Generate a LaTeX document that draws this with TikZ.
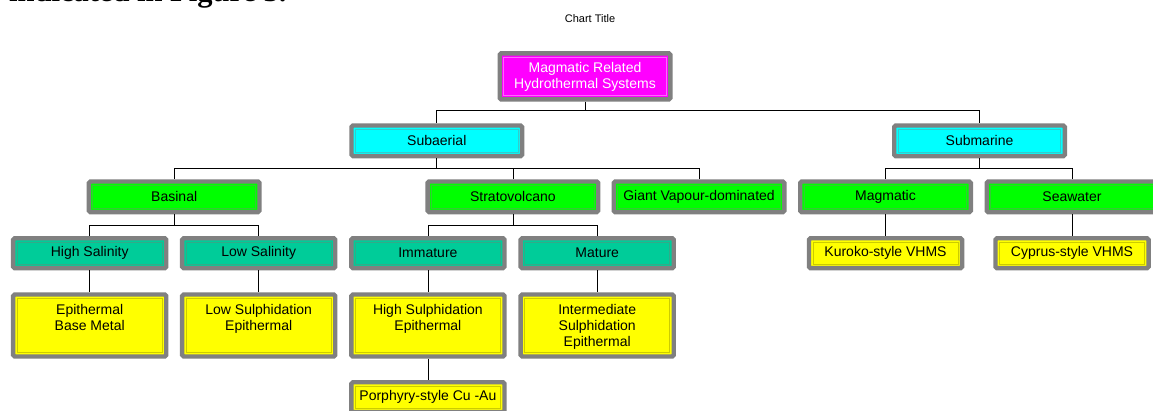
\documentclass[tikz,border=0pt]{standalone}
\usepackage{fontspec}
\setmainfont{Liberation Sans}
\newfontfamily\docserif{Liberation Serif}
\definecolor{boxgray}{HTML}{808080}
\definecolor{magfill}{HTML}{FF00FF}
\definecolor{magline}{HTML}{FF66FF}
\definecolor{cyanfill}{HTML}{00FFFF}
\definecolor{cyanline}{HTML}{33CCCC}
\definecolor{greenfill}{HTML}{00FF00}
\definecolor{greenline}{HTML}{33CC33}
\definecolor{tealfill}{HTML}{00CC99}
\definecolor{tealline}{HTML}{33AA88}
\definecolor{yelfill}{HTML}{FFFF00}
\definecolor{yelline}{HTML}{CCCC00}
\tikzset{
  box/.style={draw=boxgray, line width=4.4pt, rounded corners=1.5pt, inner sep=0pt,
    align=center, font=\fontsize{14}{16}\selectfont,
    path picture={\draw[#1, line width=0.9pt, sharp corners]
      ([shift={(4pt,-4pt)}]path picture bounding box.north west) rectangle
      ([shift={(-4pt,4pt)}]path picture bounding box.south east);}},
  wide/.style={minimum width=170.6pt, minimum height=30.6pt},
  narrow/.style={minimum width=153.1pt, minimum height=29.9pt},
  tall/.style={minimum width=153.1pt, minimum height=62pt},
  magbox/.style={box=magline, fill=magfill, text=white, minimum width=170.6pt, minimum height=46pt},
  cyanbox/.style={box=cyanline, fill=cyanfill, wide},
  greenbox/.style={box=greenline, fill=greenfill, wide},
  tealbox/.style={box=tealline, fill=tealfill, narrow},
  yelbox/.style={box=yelline, fill=yelfill, narrow},
  talltext/.style={anchor=north, inner sep=0pt, align=center, font=\fontsize{14}{16}\selectfont},
  conn/.style={draw=black, line width=0.8pt},
}
\begin{document}
\begin{tikzpicture}[x=1pt, y=-1pt]
\useasboundingbox (0,0) rectangle (1153,410);
\clip (0,0) rectangle (1153,410);
\fill[white] (0,0) rectangle (1153,410);

\node[anchor=base west, inner sep=0pt, font=\docserif\bfseries\fontsize{30.5}{36}\selectfont] (cap) at (9,1.5) {indicated in Figure 3.};
\node[font=\fontsize{11}{13}\selectfont, inner sep=0pt] (title) at (590,19) {Chart Title};

% level 0
\node[magbox] (root) at (585,76.4) {Magmatic Related\\Hydrothermal Systems};
% level 1
\node[cyanbox] (sa) at (436.8,140.8) {Subaerial};
\node[cyanbox] (sm) at (979.5,140.8) {Submarine};
% level 2
\node[greenbox] (bas) at (174.2,196.8) {Basinal};
\node[greenbox] (strat) at (512.9,196.8) {Stratovolcano};
\node[greenbox] (giant) at (699,196.8) {Giant Vapour-dominated};
\node[greenbox] (mag) at (885.5,196.8) {Magmatic};
\node[greenbox] (sea) at (1072,196.8) {Seawater};
% level 3
\node[tealbox] (hs) at (89.7,253.2) {High Salinity};
\node[tealbox] (ls) at (258.7,253.2) {Low Salinity};
\node[tealbox] (imm) at (427.9,253.2) {Immature};
\node[tealbox] (mat) at (597.2,253.2) {Mature};
\node[yelbox] (kur) at (885.5,253.2) {Kuroko-style VHMS};
\node[yelbox] (cyp) at (1072,253.2) {Cyprus-style VHMS};
% level 4
\node[yelbox, tall] (ebm) at (89.7,325.5) {};
\node[yelbox, tall] (lse) at (258.7,325.5) {};
\node[yelbox, tall] (hse) at (427.9,325.5) {};
\node[yelbox, tall] (ise) at (597.2,325.5) {};
\node[talltext] (ebmt) at ([yshift=-12pt]ebm.north) {Epithermal\\Base Metal};
\node[talltext] (lset) at ([yshift=-12pt]lse.north) {Low Sulphidation\\Epithermal};
\node[talltext] (hset) at ([yshift=-12pt]hse.north) {High Sulphidation\\Epithermal};
\node[talltext] (iset) at ([yshift=-12pt]ise.north) {Intermediate\\Sulphidation\\Epithermal};
% level 5
\node[yelbox] (por) at (427.9,397.2) {Porphyry-style Cu -Au};

% connectors
\draw[conn] (root.south) -- ++(0,9) -| (sa.north);
\draw[conn] (root.south) -- ++(0,9) -| (sm.north);
\draw[conn] (sa.south) -- ++(0,10) -| (bas.north);
\draw[conn] (sa.south) -- ++(0,10) -| (strat.north);
\draw[conn] (sa.south) -- ++(0,10) -| (giant.north);
\draw[conn] (sm.south) -- ++(0,10) -| (mag.north);
\draw[conn] (sm.south) -- ++(0,10) -| (sea.north);
\draw[conn] (bas.south) -- ++(0,11.3) -| (hs.north);
\draw[conn] (bas.south) -- ++(0,11.3) -| (ls.north);
\draw[conn] (strat.south) -- ++(0,11.3) -| (imm.north);
\draw[conn] (strat.south) -- ++(0,11.3) -| (mat.north);
\draw[conn] (hs.south) -- (ebm.north);
\draw[conn] (ls.south) -- (lse.north);
\draw[conn] (imm.south) -- (hse.north);
\draw[conn] (mat.south) -- (ise.north);
\draw[conn] (hse.south) -- (por.north);
\draw[conn] (mag.south) -- (kur.north);
\draw[conn] (sea.south) -- (cyp.north);
\end{tikzpicture}
\end{document}
